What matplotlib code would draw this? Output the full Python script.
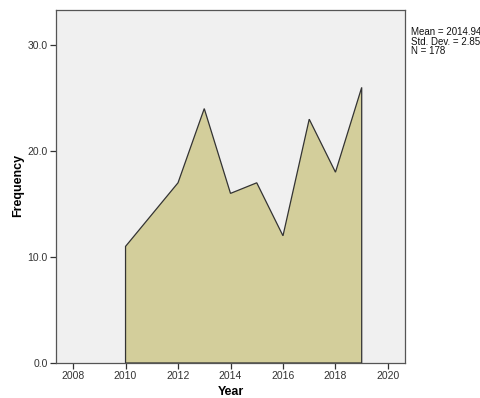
import matplotlib
matplotlib.use("Agg")
import matplotlib.pyplot as plt

years = [2010, 2011, 2012, 2013, 2014, 2015, 2016, 2017, 2018, 2019]
frequency = [11, 14, 17, 24, 16, 17, 12, 23, 18, 26]
x_ticks = [2008, 2010, 2012, 2014, 2016, 2018, 2020]
y_ticks = [0, 10, 20, 30]
stats_text = "Mean = 2014.94\nStd. Dev. = 2.858\nN = 178"

plt.rcParams['font.family'] = ['Liberation Sans', 'DejaVu Sans']

fig = plt.figure(figsize=(4.8, 3.98), dpi=100)
ax_left, ax_bottom, ax_w, ax_h = 56, 363, 349, 353
ax = fig.add_axes([ax_left / 480, 1 - ax_bottom / 398, ax_w / 480, ax_h / 398])
ax.set_facecolor('#F0F0F0')

# area polygon closed down to the baseline at both ends
xs = [years[0]] + years + [years[-1]]
ys = [0] + frequency + [0]
ax.fill(xs, ys, facecolor='#D3CE9B', edgecolor='#333333', linewidth=0.9)

ax.set_xlim(2007.35, 2020.65)
ax.set_ylim(0, 33.3)
ax.set_xticks(x_ticks)
ax.set_xticklabels([str(t) for t in x_ticks], fontsize=7.5, color='#333333')
ax.set_yticks(y_ticks)
ax.set_yticklabels([f"{t:.1f}" for t in y_ticks], fontsize=7.5, color='#333333')
ax.tick_params(length=4, width=0.9, color='#333333', pad=2)

for s in ax.spines.values():
    s.set_color('#555555')
    s.set_linewidth(0.9)

ax.set_xlabel('Year', fontsize=9, fontweight='bold')
ax.xaxis.set_label_coords((231 - ax_left) / ax_w, -(392 - ax_bottom) / ax_h)
ax.xaxis.label.set_va('center')
ax.set_ylabel('Frequency', fontsize=9, fontweight='bold')
ax.yaxis.set_label_coords(-(ax_left - 18) / ax_w, (ax_bottom - 185) / ax_h)
ax.yaxis.label.set_va('center')

fig.text(411 / 480, 1 - 27 / 398, stats_text, fontsize=7, va='top', ha='left',
         linespacing=0.95, color='#111111')

fig.savefig('out.png', dpi=100)
